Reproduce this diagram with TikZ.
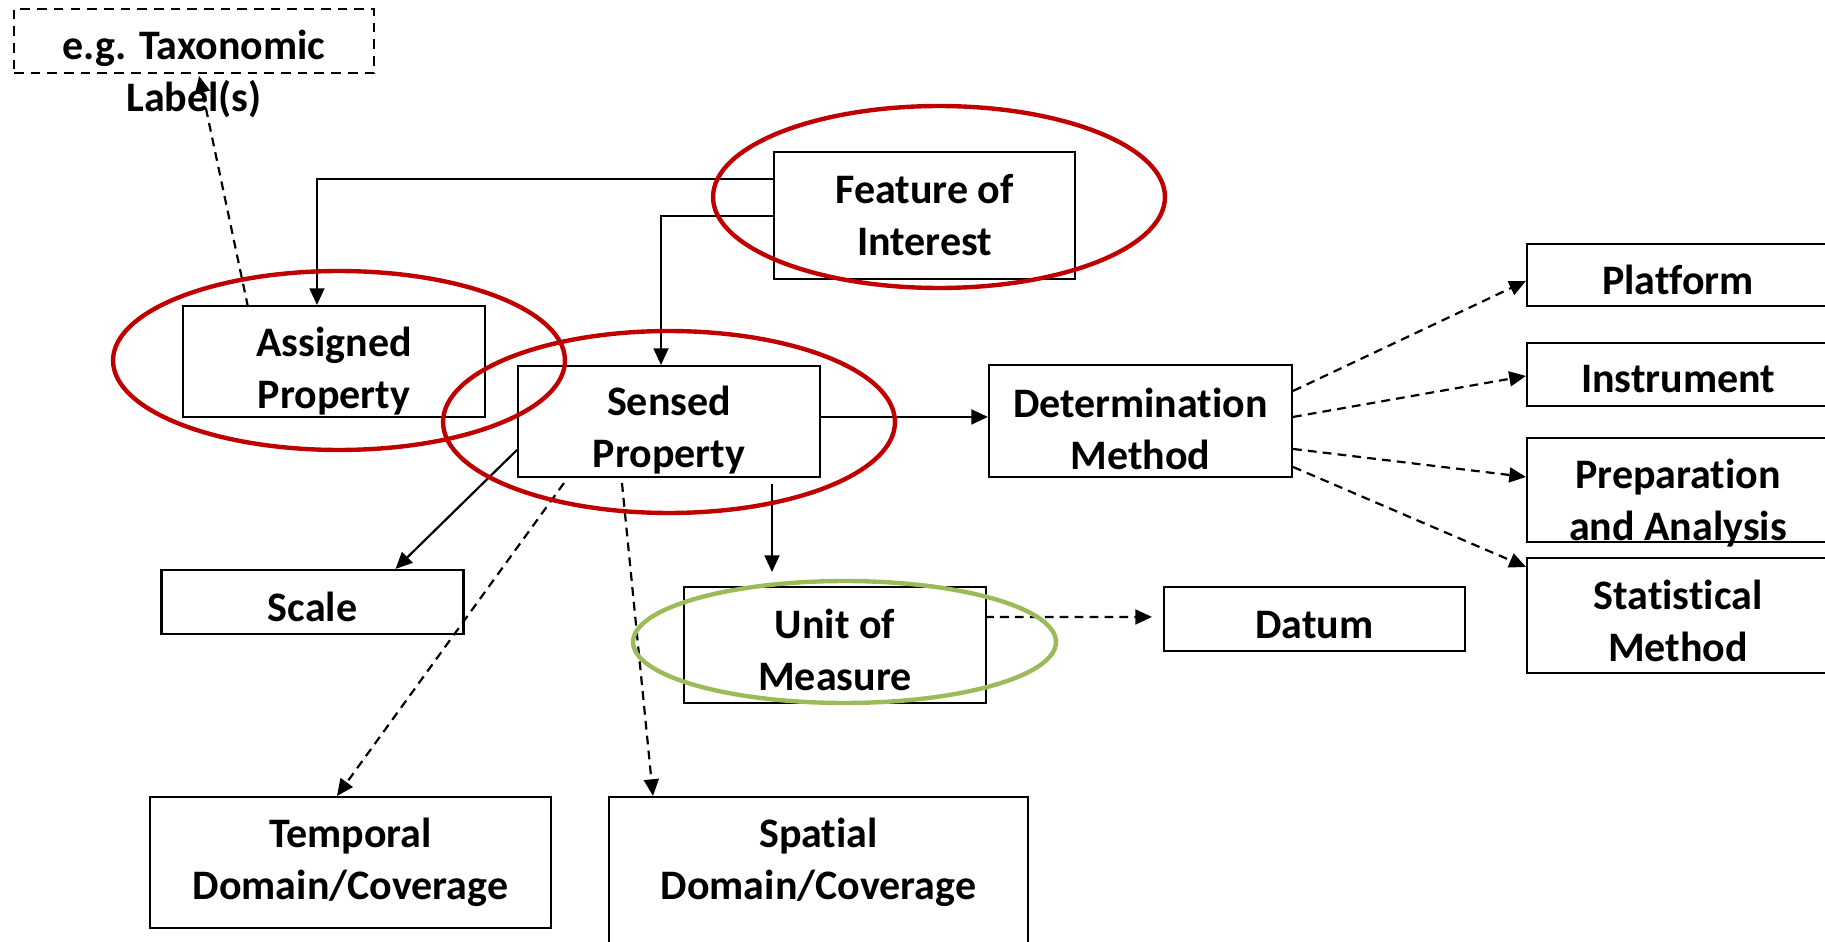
\documentclass[tikz,border=0pt]{standalone}
\usepackage{fontspec}
\setmainfont{Carlito}[Ligatures=NoCommon]
\usetikzlibrary{arrows.meta,calc}

\begin{document}
\begin{tikzpicture}[x=0.02cm,y=-0.02cm,
  every node/.style={font=\bfseries\fontsize{23.9}{29.6}\selectfont, inner sep=0pt, align=center},
  box/.style={draw, line width=1.2pt},
  boxtext/.style 2 args={label={[yshift=-#1cm]center:{#2}}},
  dashbox/.style={draw, line width=1.1pt, dash pattern=on 5.5pt off 4pt},
  arr/.style={line width=1.25pt, -{Triangle[length=9.5pt,width=8.5pt]}},
  darr/.style={arr, dash pattern=on 5pt off 3.5pt},
  redring/.style={draw=ringred, line width=2.5pt},
  greenring/.style={draw=ringgreen, line width=2.5pt}]
\definecolor{ringred}{HTML}{C00000}
\definecolor{ringgreen}{HTML}{9BBB59}
\useasboundingbox (0,0) rectangle (1825,942);

% boxes
\node[dashbox, minimum width=7.2cm, minimum height=1.28cm] (tax) at (194,41) {};
\node (taxtext) at (194,74) {e.g. Taxonomic\\Label(s)};
\node[box, minimum width=6.02cm, minimum height=2.54cm] (foi) at (924.5,215.5) {Feature of\\Interest};
\node[box, minimum width=6.04cm, minimum height=2.22cm, boxtext={0.2}{Assigned\\Property}] (ap) at (334,361.5) {};
\node[box, minimum width=6.04cm, minimum height=2.22cm, boxtext={0.18}{Sensed\\Property}] (sp) at (669,421.5) {};
\node[box, minimum width=6.06cm, minimum height=2.24cm, boxtext={0.16}{Determination\\Method}] (dm) at (1140.5,421) {};
\node[box, minimum width=6.04cm, minimum height=2.32cm, boxtext={0.1}{Unit of\\Measure}] (uom) at (835,645) {};
\node[box, minimum width=6.02cm, minimum height=1.28cm, boxtext={0.12}{Datum}] (datum) at (1314.5,619) {};
\node[box, minimum width=6.04cm, minimum height=1.28cm, boxtext={0.1}{Scale}] (scale) at (312.5,602) {};
\node[box, minimum width=8.02cm, minimum height=2.62cm] (tdc) at (350.5,862.5) {Temporal\\Domain/Coverage};
\node[box, minimum width=8.38cm, minimum height=3.6cm] (sdc) at (818.5,887) {};
\node (sdctext) at (818.5,862) {Spatial\\Domain/Coverage};
\node[box, minimum width=6.04cm, minimum height=1.24cm, boxtext={0.1}{Platform}] (plat) at (1678,275) {};
\node[box, minimum width=6.04cm, minimum height=1.26cm, boxtext={0.1}{Instrument}] (inst) at (1678,374.5) {};
\node[box, minimum width=6.04cm, minimum height=2.08cm] (prep) at (1678,490) {};
\node (preptext) at (1678,503) {Preparation\\and Analysis};
\node[box, minimum width=6.04cm, minimum height=2.30cm, boxtext={0.1}{Statistical\\Method}] (stat) at (1678,615.5) {};

% solid connectors
\draw[arr] ($(foi.north west)+(0,28)$) -| ($(ap.north west)+(135,0)$);
\draw[arr] ($(foi.north west)+(0,65)$) -| ($(sp.north west)+(144,0)$);
\draw[arr] ($(sp.north east)+(0,52)$) -- ($(dm.north west)+(0,53)$);
\draw[arr, shorten >=0.28cm] ($(sp.south west)+(255,6)$) -- ($(uom.north west)+(89,0)$);
\draw[arr] ($(sp.north west)+(0,85)$) -- ($(scale.north west)+(235,0)$);

% dashed connectors
\draw[darr] ($(sp.south west)+(47,5)$) -- ($(tdc.north west)+(188,0)$);
\draw[darr] ($(sp.south west)+(105,5)$) -- ($(sdc.north west)+(45,0)$);
\draw[darr, shorten >=0.22cm] ($(uom.north east)+(-2,31)$) -- ($(datum.north west)+(0,31)$);
\draw[darr] ($(dm.north east)+(0,27)$) -- ($(plat.north west)+(0,38)$);
\draw[darr] ($(dm.north east)+(0,53)$) -- ($(inst.north west)+(0,34)$);
\draw[darr] ($(dm.north east)+(0,85)$) -- ($(prep.north west)+(0,40)$);
\draw[darr] ($(dm.north east)+(0,103)$) -- ($(stat.north west)+(0,10)$);
\draw[darr] ($(ap.north west)+(66,2)$) -- ($(tax.south west)+(186,2)$);

% highlight rings
\draw[redring] (939,197) ellipse [x radius=4.52cm, y radius=1.82cm];
\draw[redring] (339,360.5) ellipse [x radius=4.52cm, y radius=1.79cm];
\draw[redring] (669,422) ellipse [x radius=4.52cm, y radius=1.82cm];
\draw[greenring] (844.5,642) ellipse [x radius=4.23cm, y radius=1.22cm];
\end{tikzpicture}
\end{document}
